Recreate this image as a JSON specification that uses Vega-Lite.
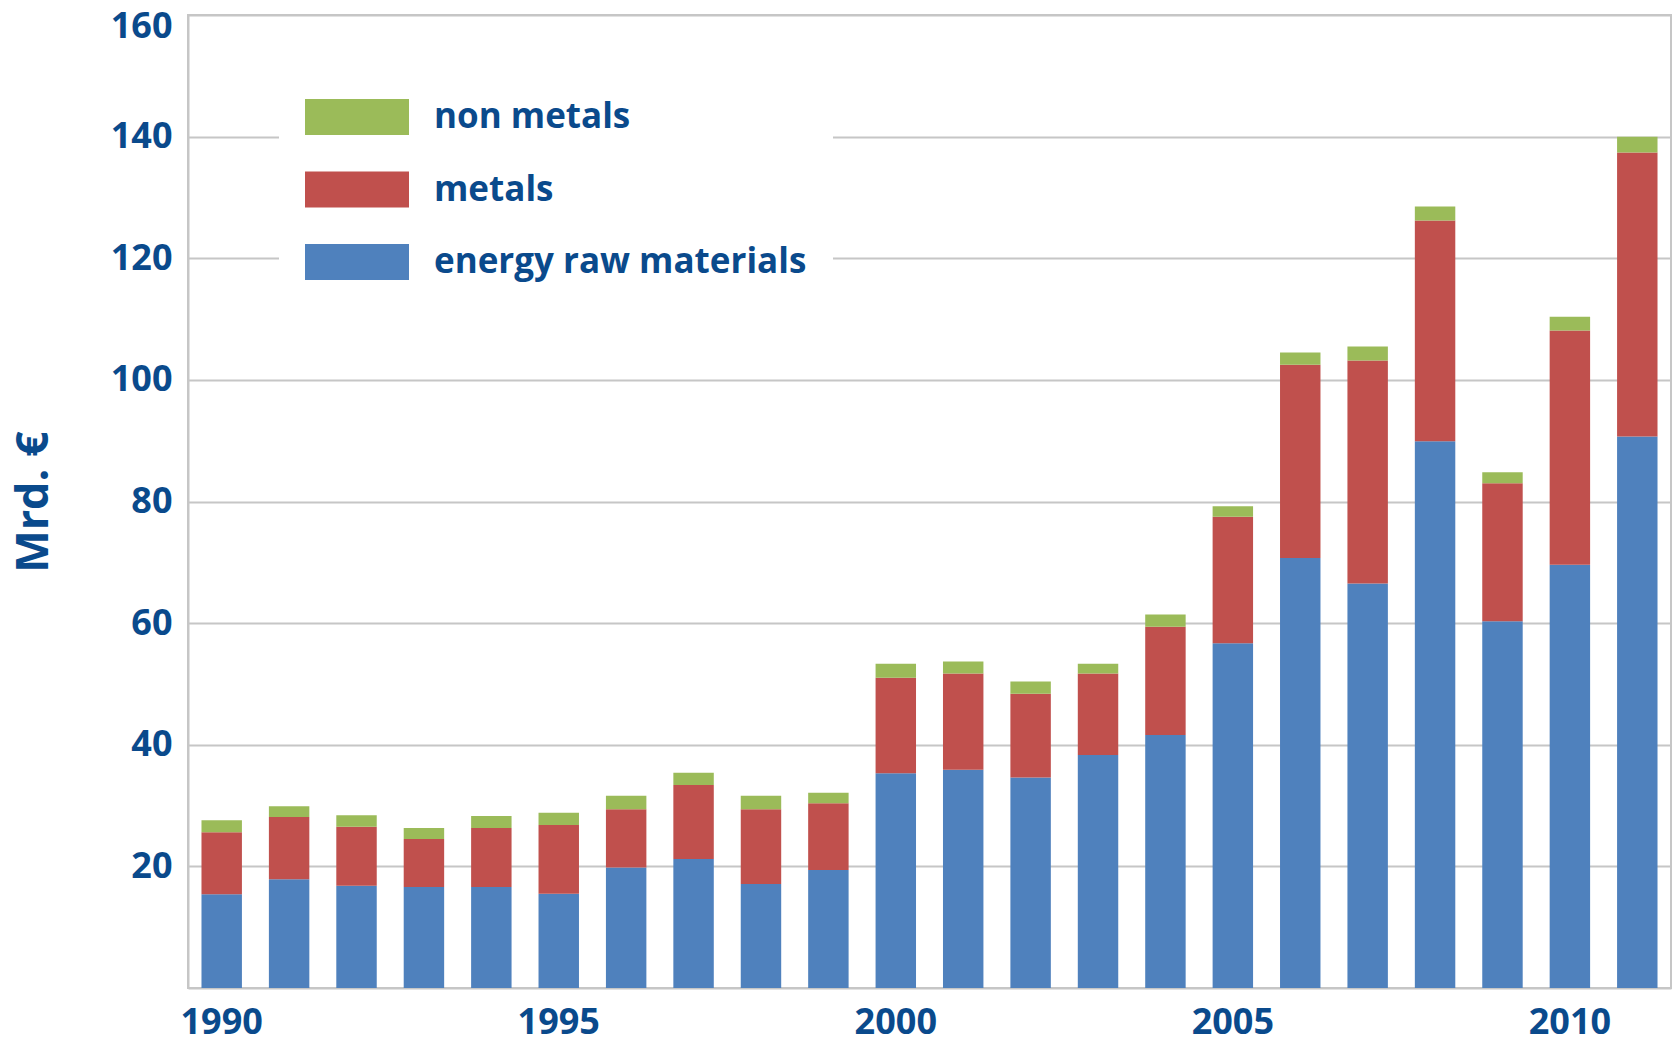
{
  "$schema": "https://vega.github.io/schema/vega-lite/v6.json",
  "width": 1483,
  "height": 973,
  "autosize": {"type": "none"},
  "padding": {"left": 188, "top": 15, "right": 1, "bottom": 53},
  "background": "white",
  "config": {
    "font": "Open Sans",
    "view": {"stroke": "#c6c6c6", "strokeWidth": 2},
    "axis": {
      "labelFont": "Open Sans",
      "labelFontWeight": "bold",
      "labelColor": "#0a4a8c",
      "titleColor": "#0a4a8c",
      "titleFont": "Open Sans",
      "titleFontWeight": "bold",
      "domainColor": "#c6c6c6",
      "domainWidth": 2,
      "gridColor": "#c6c6c6",
      "gridWidth": 2,
      "ticks": false
    }
  },
  "data": {
    "values": [
      {"year": 1990, "type": "energy raw materials", "value": 15.4},
      {"year": 1990, "type": "metals", "value": 10.2},
      {"year": 1990, "type": "non metals", "value": 2.0},
      {"year": 1991, "type": "energy raw materials", "value": 17.9},
      {"year": 1991, "type": "metals", "value": 10.2},
      {"year": 1991, "type": "non metals", "value": 1.8},
      {"year": 1992, "type": "energy raw materials", "value": 16.8},
      {"year": 1992, "type": "metals", "value": 9.7},
      {"year": 1992, "type": "non metals", "value": 1.9},
      {"year": 1993, "type": "energy raw materials", "value": 16.6},
      {"year": 1993, "type": "metals", "value": 7.9},
      {"year": 1993, "type": "non metals", "value": 1.8},
      {"year": 1994, "type": "energy raw materials", "value": 16.6},
      {"year": 1994, "type": "metals", "value": 9.7},
      {"year": 1994, "type": "non metals", "value": 2.0},
      {"year": 1995, "type": "energy raw materials", "value": 15.5},
      {"year": 1995, "type": "metals", "value": 11.3},
      {"year": 1995, "type": "non metals", "value": 2.0},
      {"year": 1996, "type": "energy raw materials", "value": 19.8},
      {"year": 1996, "type": "metals", "value": 9.6},
      {"year": 1996, "type": "non metals", "value": 2.2},
      {"year": 1997, "type": "energy raw materials", "value": 21.2},
      {"year": 1997, "type": "metals", "value": 12.2},
      {"year": 1997, "type": "non metals", "value": 2.0},
      {"year": 1998, "type": "energy raw materials", "value": 17.1},
      {"year": 1998, "type": "metals", "value": 12.3},
      {"year": 1998, "type": "non metals", "value": 2.2},
      {"year": 1999, "type": "energy raw materials", "value": 19.4},
      {"year": 1999, "type": "metals", "value": 11.0},
      {"year": 1999, "type": "non metals", "value": 1.7},
      {"year": 2000, "type": "energy raw materials", "value": 35.3},
      {"year": 2000, "type": "metals", "value": 15.7},
      {"year": 2000, "type": "non metals", "value": 2.3},
      {"year": 2001, "type": "energy raw materials", "value": 35.9},
      {"year": 2001, "type": "metals", "value": 15.8},
      {"year": 2001, "type": "non metals", "value": 2.0},
      {"year": 2002, "type": "energy raw materials", "value": 34.6},
      {"year": 2002, "type": "metals", "value": 13.8},
      {"year": 2002, "type": "non metals", "value": 2.0},
      {"year": 2003, "type": "energy raw materials", "value": 38.3},
      {"year": 2003, "type": "metals", "value": 13.4},
      {"year": 2003, "type": "non metals", "value": 1.6},
      {"year": 2004, "type": "energy raw materials", "value": 41.6},
      {"year": 2004, "type": "metals", "value": 17.8},
      {"year": 2004, "type": "non metals", "value": 2.0},
      {"year": 2005, "type": "energy raw materials", "value": 56.7},
      {"year": 2005, "type": "metals", "value": 20.8},
      {"year": 2005, "type": "non metals", "value": 1.7},
      {"year": 2006, "type": "energy raw materials", "value": 70.7},
      {"year": 2006, "type": "metals", "value": 31.8},
      {"year": 2006, "type": "non metals", "value": 2.0},
      {"year": 2007, "type": "energy raw materials", "value": 66.5},
      {"year": 2007, "type": "metals", "value": 36.7},
      {"year": 2007, "type": "non metals", "value": 2.3},
      {"year": 2008, "type": "energy raw materials", "value": 89.9},
      {"year": 2008, "type": "metals", "value": 36.3},
      {"year": 2008, "type": "non metals", "value": 2.3},
      {"year": 2009, "type": "energy raw materials", "value": 60.3},
      {"year": 2009, "type": "metals", "value": 22.7},
      {"year": 2009, "type": "non metals", "value": 1.8},
      {"year": 2010, "type": "energy raw materials", "value": 69.6},
      {"year": 2010, "type": "metals", "value": 38.5},
      {"year": 2010, "type": "non metals", "value": 2.3},
      {"year": 2011, "type": "energy raw materials", "value": 90.7},
      {"year": 2011, "type": "metals", "value": 46.7},
      {"year": 2011, "type": "non metals", "value": 2.6}
    ]
  },
  "mark": {"type": "bar"},
  "encoding": {
    "x": {
      "field": "year",
      "type": "ordinal",
      "scale": {"paddingInner": 0.4, "paddingOuter": 0.2},
      "axis": {
        "title": null,
        "values": [1990, 1995, 2000, 2005, 2010],
        "labelAngle": 0,
        "labelFontSize": 36,
        "labelPadding": 17,
        "grid": false
      }
    },
    "y": {
      "field": "value",
      "type": "quantitative",
      "stack": "zero",
      "scale": {"domain": [0, 160], "nice": false},
      "axis": {
        "title": "Mrd. €",
        "titleFontSize": 45,
        "titlePadding": 54,
        "values": [20, 40, 60, 80, 100, 120, 140, 160],
        "labelFontSize": 36,
        "labelPadding": 16,
        "labelFlush": true,
        "labelFlushOffset": 6,
        "grid": true
      }
    },
    "color": {
      "field": "type",
      "type": "nominal",
      "scale": {
        "domain": ["non metals", "metals", "energy raw materials"],
        "range": ["#9bbb59", "#c0504d", "#4f81bd"]
      },
      "legend": {
        "title": null,
        "orient": "none",
        "legendX": 91,
        "legendY": 54,
        "padding": 26,
        "fillColor": "white",
        "strokeColor": null,
        "symbolType": "M-1,-0.346H1V0.346H-1Z",
        "symbolSize": 10816,
        "symbolStrokeWidth": 0,
        "symbolOpacity": 1,
        "clipHeight": 44,
        "rowPadding": 28.5,
        "labelOffset": 25,
        "labelFont": "Open Sans",
        "labelFontWeight": "bold",
        "labelFontSize": 35,
        "labelColor": "#0a4a8c",
        "labelLimit": 600
      }
    },
    "order": {"field": "type", "sort": "ascending"}
  }
}
